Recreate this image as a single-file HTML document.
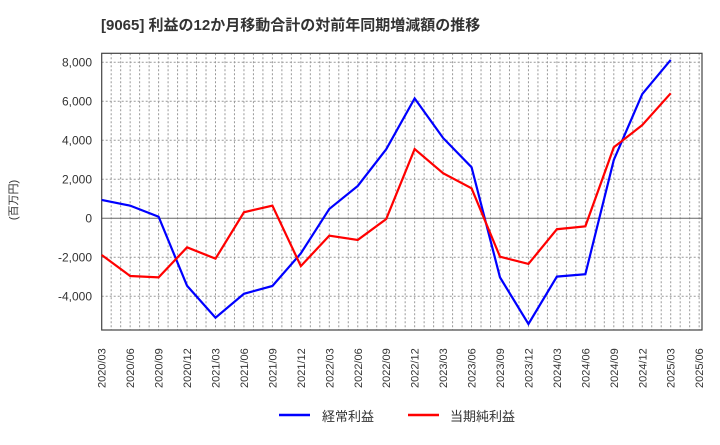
<!DOCTYPE html>
<html><head><meta charset="utf-8"><style>
body{margin:0;background:#fff;}
svg text{font-family:"Liberation Sans","Noto Sans CJK JP",sans-serif;}
</style></head><body>
<svg id="chart" width="720" height="440" xmlns="http://www.w3.org/2000/svg">
<text x="101" y="30" font-size="15" font-weight="bold" fill="#333">[9065]  利益の12か月移動合計の対前年同期増減額の推移</text>
<text transform="translate(17,200) rotate(-90)" text-anchor="middle" font-size="11" fill="#333">(百万円)</text>
<g id="grid"></g><g id="axes"></g><g id="series"></g>
<g>
<line x1="279" y1="415" x2="310" y2="415" stroke="#0000ff" stroke-width="2.5"/>
<text x="322" y="421" font-size="13" fill="#333">経常利益</text>
<line x1="408" y1="415" x2="439" y2="415" stroke="#ff0000" stroke-width="2.5"/>
<text x="450" y="421" font-size="13" fill="#333">当期純利益</text>
</g>
</svg>
<script>
const categories=["2020/03","2020/06","2020/09","2020/12","2021/03","2021/06","2021/09","2021/12","2022/03","2022/06","2022/09","2022/12","2023/03","2023/06","2023/09","2023/12","2024/03","2024/06","2024/09","2024/12","2025/03","2025/06"];
const ordinaryProfit=[940,650,80,-3460,-5100,-3870,-3470,-1800,480,1660,3540,6150,4120,2620,-3030,-5420,-2990,-2870,2990,6370,8120];
const netProfit=[-1880,-2960,-3030,-1490,-2070,310,650,-2450,-890,-1110,-40,3550,2310,1540,-1970,-2340,-560,-410,3640,4780,6410];
const yTicks=[-4000,-2000,0,2000,4000,6000,8000];
const yTickLabels=["-4,000","-2,000","0","2,000","4,000","6,000","8,000"];
const NS="http://www.w3.org/2000/svg";
const L=101.7,R=702,T=53.3,B=330;
const step=(R-L-1.5)/21.05;
function xs(i){return L+i*28.45;}
function ys(v){return 218.3-v/2000*39;}
function mk(tag,attrs,parent){const e=document.createElementNS(NS,tag);for(const k in attrs)e.setAttribute(k,attrs[k]);parent.appendChild(e);return e;}
const grid=document.getElementById('grid'),axes=document.getElementById('axes'),series=document.getElementById('series');
for(let m=1;m<=63;m++){const x=L+m*28.45/3;if(x>=R-1)break;
const g=mk('line',{x1:x,y1:T,x2:x,y2:B,stroke:'#999','stroke-width':1,'stroke-dasharray':'2,2'},grid);

}
yTicks.forEach((v,i)=>{const y=ys(v);
const g=mk('line',{x1:L,y1:y,x2:R,y2:y,stroke:v===0?'#666':'#999','stroke-width':1,'stroke-dasharray':v===0?'none':'2,2'},grid);


const t=mk('text',{x:92,y:y+4,'text-anchor':'end','font-size':12,fill:'#333'},axes);
t.textContent=yTickLabels[i];

});
const fr=mk('rect',{x:L,y:T,width:R-L,height:B-T,fill:'none',stroke:'#444','stroke-width':1.2},axes);


categories.forEach((c,i)=>{const x=xs(i);
const t=mk('text',{transform:`translate(${x+4},${388}) rotate(-90)`,'font-size':11,fill:'#333'},axes);
t.textContent=c;

});
function line(data,color,name){
const p=mk('polyline',{points:data.map((v,i)=>xs(i)+','+ys(v)).join(' '),fill:'none',stroke:color,'stroke-width':2.2,'stroke-linejoin':'miter'},series);

}
line(ordinaryProfit,'#0000ff','ordinary-profit-line');
line(netProfit,'#ff0000','net-profit-line');
</script>
</body></html>
